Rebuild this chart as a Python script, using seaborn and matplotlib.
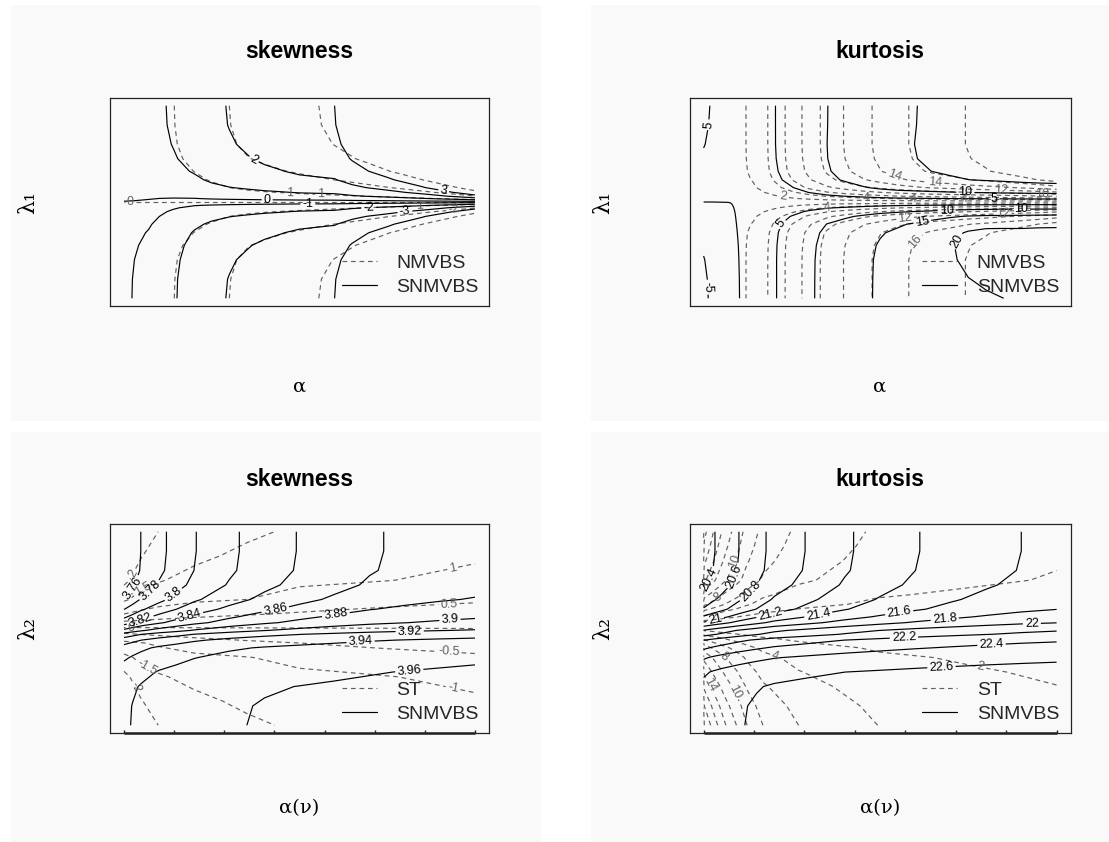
import numpy as np
import matplotlib
matplotlib.use("Agg")
import matplotlib.pyplot as plt
from matplotlib.lines import Line2D
from matplotlib.patches import Rectangle
import seaborn as sns

# ======================= data =======================
# ---- top row: grid in alpha (x) and lambda_1 (y) ----
top_alpha = [0.0, 0.03, 0.07, 0.1, 0.14, 0.2, 0.25, 0.3, 0.35, 0.4, 0.45,
             0.5, 0.55, 0.6, 0.65, 0.7, 0.75, 0.8, 0.85, 0.9, 0.95, 1.0]
top_lambda = [-1.0, -0.8, -0.6, -0.45, -0.32, -0.23, -0.15, -0.1, -0.06, -0.035, -0.02, -0.01,
              0.0, 0.01, 0.02, 0.035, 0.06, 0.1, 0.15, 0.23, 0.32, 0.45, 0.6, 0.8, 1.0]

# skewness, NMVBS (dashed): alpha profile x lambda profile
skew_nm_alpha = [0.2, 0.4, 0.65, 0.8, 0.98, 1.35, 1.68, 2.0, 2.25, 2.45, 2.62,
                 2.8, 2.98, 3.18, 3.4, 3.65, 3.95, 4.3, 4.75, 5.3, 6.0, 7.0]
skew_nm_lambda = [-1.0, -0.99, -0.95, -0.87, -0.75, -0.63, -0.5, -0.39, -0.28, -0.19, -0.12, -0.06,
                  0.0, 0.06, 0.12, 0.19, 0.28, 0.39, 0.5, 0.63, 0.75, 0.87, 0.95, 0.99, 1.0]
skew_nm_levels = [-3, -2, -1, 0, 1, 2, 3]

# skewness, SNMVBS (solid)
skew_snm_alpha = [0.8, 0.95, 1.05, 1.2, 1.5, 1.95, 2.3, 2.55, 2.75, 2.95, 3.1,
                  3.3, 3.4, 3.5, 4.0, 4.4, 4.8, 5.3, 5.9, 6.7, 7.7, 9.0]
skew_snm_shift = [0.05, 0.1, 0.2, 0.3, 0.4, 0.5, 0.5, 0.5, 0.5, 0.5, 0.5,
                  0.5, 0.5, 0.5, 0.5, 0.5, 0.5, 0.5, 0.5, 0.5, 0.5, 0.5]
skew_snm_lambda = [-1.0, -0.99, -0.95, -0.89, -0.8, -0.7, -0.58, -0.47, -0.35, -0.24, -0.15, -0.08,
                   0.0, 0.08, 0.15, 0.24, 0.35, 0.47, 0.58, 0.7, 0.8, 0.89, 0.95, 0.99, 1.0]
skew_snm_levels = [-4, -3, -2, -1, 0, 1, 2, 3]

# kurtosis, NMVBS (dashed)
kurt_nm_alpha = [0.5, 0.8, 1.2, 1.6, 2.4, 4.7, 6.8, 8.9, 10.7, 12.1, 13.4,
                 14.5, 15.5, 16.3, 17.0, 17.5, 18.1, 18.6, 19.2, 19.8, 20.5, 21.3]
kurt_nm_lambda = [1.0, 1.0, 1.0, 0.99, 0.96, 0.88, 0.72, 0.55, 0.38, 0.26, 0.17, 0.1,
                  0.02, 0.1, 0.17, 0.26, 0.38, 0.55, 0.72, 0.88, 0.96, 0.99, 1.0, 1.0, 1.0]
kurt_nm_levels = [2, 4, 6, 8, 10, 12, 14, 16, 18]

# kurtosis, SNMVBS (solid): even part + tilt + lower bump
kurt_snm_alpha = [0.0, 0.15, 0.6, 1.4, 2.9, 4.8, 6.6, 8.8, 10.7, 12.0, 13.3,
                  14.6, 15.5, 16.0, 16.5, 17.0, 17.5, 17.8, 18.1, 18.5, 18.8, 19.0]
kurt_snm_lambda = [1.0, 1.0, 1.0, 0.99, 0.96, 0.9, 0.76, 0.6, 0.43, 0.3, 0.2, 0.12,
                   0.03, 0.12, 0.2, 0.3, 0.43, 0.6, 0.76, 0.9, 0.96, 0.99, 1.0, 1.0, 1.0]
kurt_snm_tilt = [5.5, 4.5, 2.9, 1.5, 0.7, 0.1, -0.3, -0.6, -0.75, -0.8, -0.9,
                 -1.0, -1.0, -1.05, -1.1, -1.2, -1.3, -1.35, -1.4, -1.5, -1.55, -1.6]
kurt_snm_tilt_lambda = [-1.0, -0.98, -0.93, -0.85, -0.72, -0.6, -0.45, -0.32, -0.2, -0.12, -0.07, -0.035,
                        0.0, 0.035, 0.07, 0.12, 0.2, 0.32, 0.45, 0.6, 0.72, 0.85, 0.93, 0.98, 1.0]
kurt_snm_bump_alpha = [0, 0, 0, 0, 0, 0, 0, 0, 0, 0, 0,
                       0, 0, 0.5, 1.2, 2.0, 2.6, 2.8, 2.5, 2.0, 1.8, 1.6]
kurt_snm_bump_lambda = [0.2, 0.45, 0.75, 0.95, 1.0, 0.8, 0.55, 0.35, 0.2, 0.1, 0.05, 0.02,
                        0, 0, 0, 0, 0, 0, 0, 0, 0, 0, 0, 0, 0]
kurt_snm_levels = [-5, 0, 5, 10, 15, 20]

# ---- bottom row: grid in alpha(nu) (x) and lambda_2 (y) ----
bot_alpha = [0.0, 0.025, 0.05, 0.1, 0.15, 0.2, 0.3, 0.4, 0.5, 0.6, 0.7, 0.8, 0.9, 1.0]
bot_lambda = [-1.0, -0.8, -0.6, -0.45, -0.3, -0.2, -0.12, -0.06, -0.02,
              0.02, 0.06, 0.12, 0.2, 0.3, 0.45, 0.6, 0.8, 1.0]

# skewness, SNMVBS (solid): value along top edge, bottom edge, and vertical shape
skew2_snm_top = [3.74, 3.75, 3.761, 3.775, 3.787, 3.799, 3.816, 3.83, 3.841, 3.85, 3.858, 3.863, 3.867, 3.87]
skew2_snm_bottom = [3.937, 3.941, 3.944, 3.949, 3.952, 3.955, 3.959, 3.961, 3.962, 3.963, 3.964, 3.965, 3.966, 3.967]
skew2_snm_lambda = [1.0, 0.995, 0.97, 0.91, 0.8, 0.7, 0.52, 0.3, 0.06,
                    -0.1, -0.28, -0.42, -0.6, -0.77, -0.92, -0.985, -1.0, -1.0]
skew2_snm_levels = [3.76, 3.78, 3.8, 3.82, 3.84, 3.86, 3.88, 3.9, 3.92, 3.94, 3.96]

# skewness, ST (dashed): values on a coarse grid
st_skew_alpha = [0.0, 0.05, 0.1, 0.2, 0.35, 0.5, 0.75, 1.0]
st_skew_lambda = [-1.0, -0.75, -0.5, -0.3, -0.15, -0.05, 0.0, 0.05, 0.15, 0.3, 0.5, 0.75, 1.0]
st_skew_values = [
    [-2.6, -2.35, -1.98, -1.85, -1.6, -1.412, -1.241, -1.147],
    [-2.35, -2.02, -1.76, -1.624, -1.394, -1.254, -1.129, -1.061],
    [-2.15, -1.699, -1.553, -1.36, -1.185, -1.096, -1.017, -0.885],
    [-1.625, -1.383, -1.249, -1.111, -1.018, -0.88, -0.692, -0.577],
    [-1.107, -1.02, -0.919, -0.748, -0.594, -0.5, -0.377, -0.3],
    [-0.5, -0.428, -0.373, -0.296, -0.223, -0.177, -0.13, -0.1],
    [-0.083, -0.068, -0.057, -0.041, -0.026, -0.016, -0.006, 0.0],
    [0.333, 0.289, 0.256, 0.21, 0.167, 0.141, 0.113, 0.096],
    [1.0, 0.883, 0.793, 0.664, 0.541, 0.453, 0.351, 0.288],
    [1.571, 1.328, 1.204, 1.081, 1.0, 0.838, 0.668, 0.563],
    [2.15, 1.683, 1.538, 1.335, 1.168, 1.085, 1.013, 0.875],
    [2.35, 2.02, 1.752, 1.614, 1.38, 1.244, 1.127, 1.059],
    [2.6, 2.35, 1.98, 1.85, 1.6, 1.408, 1.242, 1.145],
]
st_skew_levels = [-2, -1.5, -1, -0.5, 0, 0.5, 1, 1.5, 2]

# kurtosis, SNMVBS (solid)
kurt2_snm_top = [20.3, 20.38, 20.45, 20.6, 20.73, 20.86, 21.02, 21.17, 21.29, 21.39, 21.47, 21.54, 21.6, 21.64]
kurt2_snm_bottom = [22.48, 22.52, 22.55, 22.59, 22.62, 22.64, 22.66, 22.675, 22.685, 22.695, 22.703, 22.71, 22.715, 22.72]
kurt2_snm_lambda = [1.0, 0.995, 0.97, 0.9, 0.72, 0.53, 0.37, 0.12, 0.02,
                    -0.16, -0.34, -0.52, -0.71, -0.82, -0.93, -0.985, -1.0, -1.0]
kurt2_snm_levels = [20.4, 20.6, 20.8, 21.0, 21.2, 21.4, 21.6, 21.8, 22.0, 22.2, 22.4, 22.6]

# kurtosis, ST (dashed)
st_kurt_alpha = [0.0, 0.002, 0.02, 0.04, 0.063, 0.093, 0.123, 0.168, 0.269, 0.493, 0.75, 1.0]
st_kurt_alpha_profile = [22, 20, 18, 16, 14, 12, 10, 8, 6, 4, 3.2, 2.6]
st_kurt_lambda = [-1.0, -0.8, -0.6, -0.45, -0.3, -0.2, -0.1, -0.05, 0.0, 0.03,
                  0.06, 0.11, 0.16, 0.25, 0.35, 0.5, 0.7, 0.85, 1.0]
st_kurt_lambda_profile = [1.0, 0.9, 0.78, 0.68, 0.57, 0.45, 0.27, 0.15, 0.06, 0.03,
                          0.06, 0.15, 0.25, 0.42, 0.54, 0.72, 0.82, 0.88, 0.93]
st_kurt_levels = [2, 4, 6, 8, 10, 12, 14, 16, 18, 20]

titles = ["skewness", "kurtosis", "skewness", "kurtosis"]
xlabels = ["α", "α", "α(ν)", "α(ν)"]
ylabels = ["λ₁", "λ₁", "λ₂", "λ₂"]
legend_top = ["NMVBS", "SNMVBS"]
legend_bottom = ["ST", "SNMVBS"]

# where the contour labels sit (approximate spots, as in the reference)
lab_skew_nm = [(0.017, 0.003), (0.474, 0.185), (0.56, 0.055), (0.84, -0.05), (0.94, -0.1)]
lab_skew_snm = [(0.357, 0.34), (0.408, 0.01), (0.524, -0.055), (0.697, -0.055), (0.80, -0.09), (0.91, 0.1)]
lab_kurt_nm = [(0.225, 0.02), (0.349, -0.06), (0.46, 0.04), (0.538, 0.25), (0.657, 0.195),
               (0.842, 0.13), (0.595, 0.03), (0.737, 0.03), (0.96, 0.08), (0.571, -0.17),
               (0.847, -0.12), (0.595, -0.39)]
lab_kurt_snm = [(0.02, 0.8), (0.187, -0.085), (0.742, 0.16), (0.823, 0.003), (0.688, -0.066),
                (0.9, -0.075), (0.618, -0.164), (0.742, -0.467), (0.006, -0.885)]
lab_st_skew = [(0.02, 0.58), (0.057, 0.37), (0.94, 0.56), (0.926, 0.258), (0.02, -0.005),
               (0.926, -0.25), (0.94, -0.574), (0.067, -0.39), (0.031, -0.616)]
lab_skew2_snm = [(0.011, 0.463), (0.067, 0.425), (0.139, 0.36), (0.047, 0.078), (0.189, 0.099),
                 (0.433, 0.154), (0.605, 0.112), (0.929, 0.078), (0.814, -0.026), (0.674, -0.137),
                 (0.814, -0.484)]
lab_st_kurt = [(0.784, -0.425), (0.204, -0.268), (0.078, -0.668), (0.012, -0.6), (0.055, -0.3),
               (0.042, 0.314), (0.088, 0.70)]
lab_kurt2_snm = [(0.002, 0.53), (0.07, 0.57), (0.131, 0.39), (0.032, 0.112), (0.189, 0.14),
                 (0.325, 0.14), (0.554, 0.164), (0.683, 0.096), (0.93, 0.054), (0.567, -0.06),
                 (0.815, -0.123), (0.673, -0.33)]

# ======================= tables for the library =======================
Z_skew_nm = np.outer(skew_nm_lambda, skew_nm_alpha)
Z_skew_snm = np.outer(skew_snm_lambda, skew_snm_alpha) - np.asarray(skew_snm_shift)[None, :]
Z_kurt_nm = np.outer(kurt_nm_lambda, kurt_nm_alpha)
Z_kurt_snm = (np.outer(kurt_snm_lambda, kurt_snm_alpha)
              + np.outer(kurt_snm_tilt_lambda, kurt_snm_tilt)
              + np.outer(kurt_snm_bump_lambda, kurt_snm_bump_alpha))


def mid_span(top, bottom, shape):
    top = np.asarray(top)
    bottom = np.asarray(bottom)
    return (np.outer(np.ones(len(shape)), (top + bottom) / 2)
            + np.outer(shape, (bottom - top) / 2))


Z_skew2_snm = mid_span(skew2_snm_top, skew2_snm_bottom, skew2_snm_lambda)
Z_st_skew = np.asarray(st_skew_values)
Z_kurt2_snm = mid_span(kurt2_snm_top, kurt2_snm_bottom, kurt2_snm_lambda)
Z_st_kurt = np.outer(st_kurt_lambda_profile, st_kurt_alpha_profile)

# ======================= drawing =======================
sns.set_theme(style="white")
plt.rcParams["font.family"] = ["Liberation Sans", "DejaVu Sans"]
plt.rcParams["lines.dashed_pattern"] = [4.0, 3.2]

W, H = 1109, 842
fig = plt.figure(figsize=(W / 100, H / 100), dpi=100)
fig.patch.set_facecolor("white")

PANEL_BG = "#f9f9f9"
DASH_COL = "#606060"
panels = [(11, 5, 541, 421), (591, 5, 1109, 421), (11, 432, 541, 842), (591, 432, 1109, 842)]
for (x0, y0, x1, y1) in panels:
    fig.patches.append(Rectangle((x0 / W, 1 - y1 / H), (x1 - x0) / W, (y1 - y0) / H,
                                 transform=fig.transFigure, facecolor=PANEL_BG,
                                 edgecolor="none", zorder=-10))

boxes = [(110, 98, 489, 306), (689.5, 98, 1070.7, 306),
         (110, 524, 489, 733), (689.5, 524, 1070.7, 733)]
title_y = [52, 52, 479, 479]
xlab_y = [387, 387, 808, 808]
ylab_x = [28, 603, 28, 603]
ylab_y = [203, 203, 629, 629]

specs = [
    (top_alpha, top_lambda, Z_skew_nm, skew_nm_levels, lab_skew_nm,
     top_alpha, top_lambda, Z_skew_snm, skew_snm_levels, lab_skew_snm),
    (top_alpha, top_lambda, Z_kurt_nm, kurt_nm_levels, lab_kurt_nm,
     top_alpha, top_lambda, Z_kurt_snm, kurt_snm_levels, lab_kurt_snm),
    (st_skew_alpha, st_skew_lambda, Z_st_skew, st_skew_levels, lab_st_skew,
     bot_alpha, bot_lambda, Z_skew2_snm, skew2_snm_levels, lab_skew2_snm),
    (st_kurt_alpha, st_kurt_lambda, Z_st_kurt, st_kurt_levels, lab_st_kurt,
     bot_alpha, bot_lambda, Z_kurt2_snm, kurt2_snm_levels, lab_kurt2_snm),
]


def fmt(v):
    return "%g" % v


for i, (box, spec) in enumerate(zip(boxes, specs)):
    x0, y0, x1, y1 = box
    ax = fig.add_axes([x0 / W, 1 - y1 / H, (x1 - x0) / W, (y1 - y0) / H])
    ax.set_zorder(2)
    ax.set_facecolor(PANEL_BG)
    dx, dy, dz, dl, dlab, sx, sy, sz, sl, slab = spec
    ax.set_xlim(-0.04, 1.04)
    ax.set_ylim(-1.08, 1.08)

    cs_d = ax.contour(dx, dy, dz, levels=dl, colors=DASH_COL, linewidths=0.85, linestyles="dashed")
    ax.clabel(cs_d, fmt=fmt, fontsize=9, inline=True, inline_spacing=2, manual=dlab)
    cs_s = ax.contour(sx, sy, sz, levels=sl, colors="black", linewidths=0.85, linestyles="solid")
    ax.clabel(cs_s, fmt=fmt, fontsize=9, inline=True, inline_spacing=2, manual=slab)

    ax.set_xlim(-0.04, 1.04)
    ax.set_ylim(-1.08, 1.08)
    ax.set_yticks([])
    for sp in ax.spines.values():
        sp.set_color("#222222")
        sp.set_linewidth(0.9)
        sp.set_visible(True)
    if i >= 2:
        ax.set_xticks(np.linspace(0, 1, 8))
        ax.tick_params(axis="x", direction="in", length=2.5, width=1.0, color="#222222",
                       bottom=True, labelbottom=False)
        ax.plot([0, 1], [-1.08, -1.08], color="#222222", lw=1.8, clip_on=False, zorder=5,
                solid_capstyle="butt")
    else:
        ax.set_xticks([])

    handles = [Line2D([], [], color=DASH_COL, lw=0.85, ls="--"),
               Line2D([], [], color="black", lw=0.85)]
    labels = legend_top if i < 2 else legend_bottom
    ax.legend(handles, labels, loc="upper left", bbox_to_anchor=(0.611, 0.248),
              frameon=False, fontsize=14, handlelength=1.8, handletextpad=1.0,
              labelspacing=0.32, borderpad=0, borderaxespad=0)

    cx = (x0 + x1) / 2
    fig.text(cx / W, 1 - title_y[i] / H, titles[i], ha="center", va="center",
             fontsize=16.5, fontweight="bold", color="black")
    fig.text(cx / W, 1 - xlab_y[i] / H, xlabels[i], ha="center", va="center",
             fontsize=14, family=["DejaVu Serif"], color="black")
    fig.text(ylab_x[i] / W, 1 - ylab_y[i] / H, ylabels[i], ha="center", va="center",
             fontsize=16, family=["DejaVu Serif"], rotation=90, color="black")

fig.savefig("out.png", dpi=100, facecolor="white")
